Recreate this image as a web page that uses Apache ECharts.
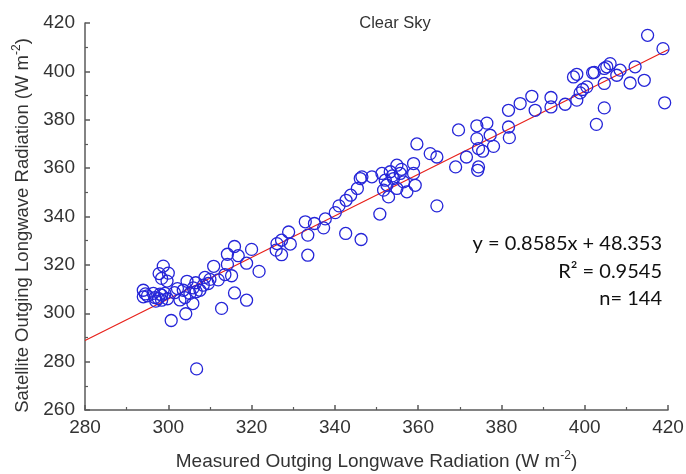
<!DOCTYPE html>
<html>
<head>
<meta charset="utf-8">
<script src="https://cdn.jsdelivr.net/npm/echarts@6/dist/echarts.min.js"></script>
<style>html,body{margin:0;padding:0;background:#fff}#c{width:686px;height:474px}</style>
</head>
<body>
<div id="c"></div>
<script>
const chartTitle = 'Clear Sky';
const xTitle = 'Measured Outging Longwave Radiation (W m';
const yTitle = 'Satellite Outging Longwave Radiation (W m';
const xRange = [280, 420];
const yRange = [260, 420];
const slope = 0.8585;
const intercept = 48.353;
const statLines = ['y = 0.8585x + 48.353', 'R\u00b2 = 0.9545', 'n= 144'];

const measured = [
  294.0,294.0,294.5,296.4,296.8,297.6,298.0,298.4,298.4,298.8,297.8,300.0,298.4,299.7,299.2,300.7,302.2,302.8,303.6,304.5,
  304.2,305.9,305.2,306.7,306.8,306.6,307.6,308.8,308.4,310.9,309.6,312.0,312.8,313.6,314.2,314.2,315.9,316.8,315.2,315.9,
  318.8,318.8,320.0,321.8,295.0,297.0,299.8,301.5,304.0,306.0,310.0,
  326.1,327.2,329.3,325.9,327.2,328.9,333.5,333.5,332.9,335.1,337.3,337.7,340.1,341.0,342.7,343.8,345.4,346.1,342.6,346.3,
  346.5,348.9,351.3,352.1,353.3,354.9,355.7,354.1,351.7,352.9,354.9,357.3,358.9,358.9,359.3,356.5,350.8,359.7,353.8,356.0,352.5,
  362.9,364.5,364.5,369.0,369.7,371.6,374.1,374.1,374.5,374.3,374.5,376.5,377.3,378.1,375.5,
  381.7,381.7,381.9,384.5,387.3,388.1,391.9,391.9,395.3,397.3,398.1,398.1,398.9,400.5,401.9,402.3,402.8,404.7,404.7,404.7,
  405.3,406.1,407.7,408.5,410.9,412.1,414.3,415.1,418.8,419.2,399.5
];
const satellite = [
  309.5,306.8,308.0,308.2,306.5,306.1,307.9,305.4,307.5,319.5,316.4,316.6,314.4,313.3,308.2,297.0,310.2,305.5,309.5,313.2,
  299.8,304.0,308.2,308.9,277.0,312.6,309.5,314.8,311.6,319.4,312.3,313.8,302.0,316.0,320.2,324.4,327.6,323.8,315.5,308.4,
  305.4,320.7,326.4,317.3,307.2,305.0,306.0,308.5,306.5,310.5,314.0,
  328.8,330.2,328.6,326.1,324.2,333.6,324.0,332.3,337.8,337.1,335.3,339.0,341.6,344.4,346.7,348.8,351.6,355.7,333.0,330.5,
  356.4,356.4,357.8,355.0,358.5,361.2,357.8,355.7,350.9,348.1,351.6,350.2,361.9,357.8,352.9,354.3,341.0,370.0,356.8,359.5,353.0,
  366.0,364.6,344.4,360.5,375.8,364.6,377.5,372.2,368.1,359.1,360.5,378.6,373.6,369.0,367.0,
  383.9,377.0,372.6,386.7,389.7,383.9,389.2,385.3,386.4,397.7,398.8,388.1,391.1,393.6,399.4,399.6,378.1,395.0,384.9,401.2,
  401.9,403.2,398.4,400.5,395.2,401.9,396.3,414.9,409.4,387.0,392.5
];

const points = measured.map((x, i) => [x, satellite[i]]);
const fitLine = xRange.map(x => [x, slope * x + intercept]);

const chart = echarts.init(document.getElementById('c'), null, {renderer: 'canvas'});
const axisCol = '#5a5a5a';
const labelFont = {color: '#333', fontSize: 19, fontFamily: 'Liberation Sans, Arial, sans-serif'};
function nameRich(size) {
  return {
    a: {fontSize: size, color: '#333', fontFamily: 'Liberation Sans, Arial, sans-serif', lineHeight: 24},
    s: {fontSize: 12, color: '#333', fontFamily: 'Liberation Sans, Arial, sans-serif', verticalAlign: 'top', lineHeight: 24, padding: [0, 0, 9, 0]}
  };
}
function axisCommon(range) {
  return {
    type: 'value', min: range[0], max: range[1], interval: 20,
    axisLine: {show: true, lineStyle: {color: axisCol, width: 1.5}},
    axisTick: {show: true, inside: true, length: 5, lineStyle: {color: axisCol, width: 1.5}},
    minorTick: {show: true, splitNumber: 2, length: 3, lineStyle: {color: axisCol, width: 1.2}},
    splitLine: {show: false},
    nameLocation: 'middle'
  };
}
const xAx = axisCommon(xRange);
xAx.axisLabel = Object.assign({margin: 8}, labelFont);
xAx.name = '{a|' + xTitle + '}{s|-2}{a|)}';
xAx.nameGap = 40;
xAx.nameTextStyle = {rich: nameRich(19)};
const yAx = axisCommon(yRange);
yAx.axisLabel = Object.assign({margin: 10}, labelFont);
yAx.name = '{a|' + yTitle + '}{s|-2}{a|)}';
yAx.nameGap = 49;
yAx.nameTextStyle = {rich: nameRich(18.5), padding: [0, 18, 0, 0]};

chart.setOption({
  animation: false,
  backgroundColor: '#fff',
  title: {
    text: chartTitle, left: 390, top: 10, textAlign: 'center',
    textStyle: {fontSize: 16.5, fontWeight: 'normal', color: '#333', fontFamily: 'Liberation Sans, Arial, sans-serif'}
  },
  grid: {left: 85, right: 18, top: 23, bottom: 64, containLabel: false, outerBoundsMode: 'none'},
  xAxis: xAx,
  yAxis: yAx,
  graphic: statLines.map((t, i) => ({
    type: 'text', right: 24, top: 234 + i * 27.5,
    style: {text: t, fontSize: 20, fill: '#111', fontFamily: 'Lato, sans-serif', textAlign: 'right'}
  })),
  series: [
    {
      type: 'line', data: fitLine, symbol: 'none', silent: true,
      lineStyle: {color: '#e8201a', width: 1.2}, z: 1
    },
    {
      type: 'scatter', data: points, symbol: 'circle', symbolSize: 12,
      itemStyle: {color: 'rgba(0,0,0,0)', borderColor: '#2525d8', borderWidth: 1.3, opacity: 1},
      z: 2
    }
  ]
});
</script>
</body>
</html>
